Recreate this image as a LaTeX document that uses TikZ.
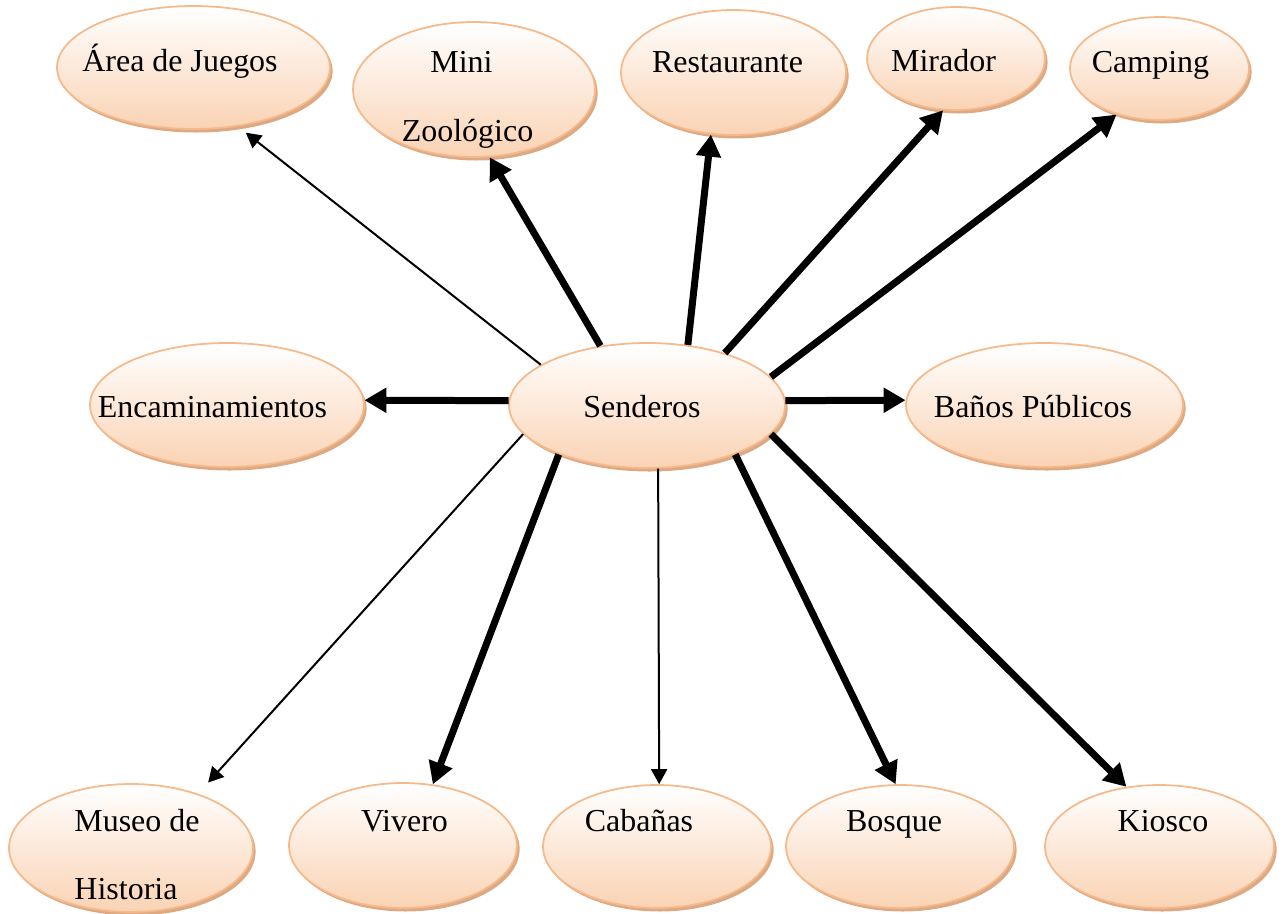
\documentclass[tikz,border=0pt]{standalone}
\usepackage{fontspec}
\setmainfont{Liberation Serif}
\usetikzlibrary{shapes.geometric,shadows,arrows.meta}
\definecolor{borde}{HTML}{F5B98B}
\definecolor{durazno}{HTML}{FAD3B4}
\definecolor{sombra}{HTML}{DDA982}

\tikzset{
  burbuja/.style={ellipse, draw=borde, line width=1pt, top color=white, bottom color=durazno, inner sep=0pt,
    drop shadow={shadow xshift=1.5pt, shadow yshift=-2pt, fill=sombra, opacity=1}}, % 椭圆样式
  texto/.style={font=\fontsize{18.2}{22}\selectfont, inner sep=0pt, anchor=base}, % 文字样式
  gruesa/.style={line width=0.14cm, -{Triangle[length=0.44cm,width=0.48cm]}}, % 粗箭头
  fina/.style={line width=0.04cm, -{Triangle[length=0.3cm,width=0.32cm]}} % 细箭头
}

\begin{document}
\begin{tikzpicture}[x=0.02cm, y=-0.02cm]
    \useasboundingbox (0,0) rectangle (1288,913);

    \node[burbuja, minimum width=5.46cm, minimum height=2.46cm] (area) at (193.5,67.5) {};
    \node[burbuja, minimum width=4.84cm, minimum height=2.70cm] (mini) at (474,89.5) {};
    \node[burbuja, minimum width=4.50cm, minimum height=2.50cm] (rest) at (733.5,72.5) {};
    \node[burbuja, minimum width=3.56cm, minimum height=2.06cm] (mir) at (956,58.5) {};
    \node[burbuja, minimum width=3.58cm, minimum height=2.06cm] (camp) at (1159.5,68.5) {};
    \node[burbuja, minimum width=5.48cm, minimum height=2.48cm] (enc) at (227,405) {};
    \node[burbuja, minimum width=5.52cm, minimum height=2.50cm] (sen) at (647,405.5) {};
    \node[burbuja, minimum width=5.54cm, minimum height=2.48cm] (ban) at (1044.5,405) {};
    \node[burbuja, minimum width=4.88cm, minimum height=2.56cm] (mus) at (131,848) {};
    \node[burbuja, minimum width=4.56cm, minimum height=2.50cm] (viv) at (403,845.5) {};
    \node[burbuja, minimum width=4.56cm, minimum height=2.46cm] (cab) at (657,846.5) {};
    \node[burbuja, minimum width=4.56cm, minimum height=2.46cm] (bos) at (900,846.5) {};
    \node[burbuja, minimum width=4.58cm, minimum height=2.46cm] (kio) at (1159.5,846.5) {};

    \node[texto] (tarea) at (180,71.7) {Área de Juegos};
    \node[texto] (tmini) at (461.5,72) {Mini};
    \node[texto] (tzoo) at (467.5,141) {Zoológico};
    \node[texto] (trest) at (727.5,72) {Restaurante};
    \node[texto] (tmir) at (943.5,71.7) {Mirador};
    \node[texto] (tcamp) at (1150.5,72) {Camping};
    \node[texto] (tenc) at (212.5,417) {Encaminamientos};
    \node[texto] (tsen) at (642,417) {Senderos};
    \node[texto] (tban) at (1033,417) {Baños Públicos};
    \node[texto] (tmus) at (137,831) {Museo de};
    \node[texto] (this) at (126,899) {Historia};
    \node[texto] (tviv) at (404.5,831) {Vivero};
    \node[texto] (tcab) at (639,831) {Cabañas};
    \node[texto] (tbos) at (894,831) {Bosque};
    \node[texto] (tkio) at (1163,831) {Kiosco};

    \draw[gruesa] (sen.178) -- (enc.2);
    \draw[gruesa] (sen.2) -- (ban.178);
    \foreach \a/\j/\b in {128/mini/-77, 56/rest/-110, 34/mir/-104, 13/camp/-133,
      -151/viv/64, -29/bos/94, -13/kio/119} {
    \draw[gruesa] (sen.\a) -- (\j.\b);
      }
    \foreach \a/\j/\b/\s in {159/area/-53/0.2cm, -167/mus/39/0.3cm, -80/cab/88/0cm} {
    \draw[fina, shorten >=\s] (sen.\a) -- (\j.\b);
      }
    \end{tikzpicture}
\end{document}
